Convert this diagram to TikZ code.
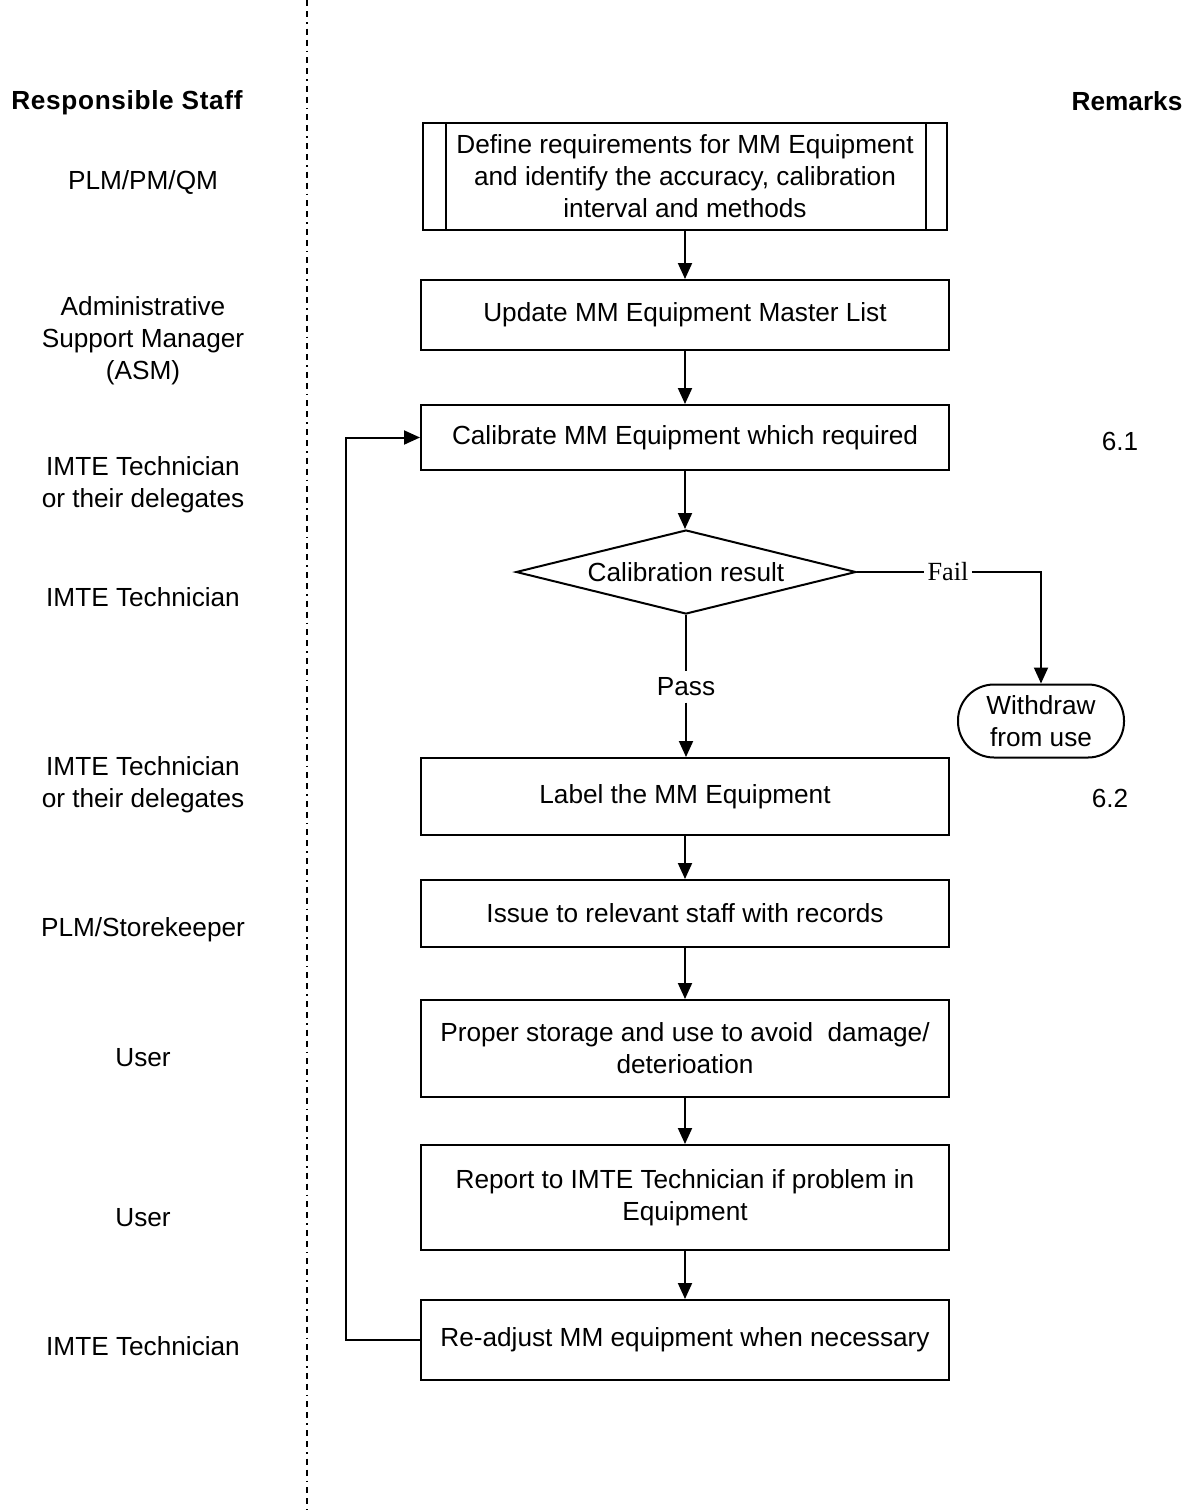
\documentclass[tikz,border=0pt]{standalone}
\usepackage{fontspec}
\setmainfont{Liberation Sans}
\newfontfamily\failfont{Liberation Serif}
\usetikzlibrary{shapes.geometric,arrows.meta}
\begin{document}
\begin{tikzpicture}[x=0.5pt,y=-0.5pt,
  every node/.style={font=\fontsize{13.1}{16}\selectfont},
  procbox/.style={draw,line width=1pt,minimum width=264pt,align=center,inner sep=2pt},
  arr/.style={line width=1pt,-{Triangle[length=8pt,width=7pt]}},
  conn/.style={line width=1pt},
  lbl/.style={align=center},
  hdr/.style={font=\fontsize{13.1}{16}\selectfont\bfseries,anchor=base}]
\useasboundingbox (0,0) rectangle (1195,1510);
% dashed separator
\coordinate (dtop) at (307,0);
\coordinate (dbot) at (307,1510);
\draw[line width=0.8pt,dash pattern=on 3pt off 2.5pt on 3pt off 2.5pt on 0.8pt off 2.5pt] (dtop) -- (dbot);
% headers
\node[hdr,font=\fontsize{13.1}{16}\selectfont\bfseries\addfontfeature{LetterSpace=2.5}] (hs) at (127,109) {Responsible Staff};
\node[hdr] (hr) at (1127,110) {Remarks};
% left column
\node[lbl] (s1) at (143,182) {PLM/PM/QM};
\node[lbl] (s2) at (143,341) {Administrative\\Support Manager\\(ASM)};
\node[lbl] (s3) at (143,485) {IMTE Technician\\or their delegates};
\node[lbl] (s4) at (143,597) {IMTE Technician};
\node[lbl] (s5) at (143,785) {IMTE Technician\\or their delegates};
\node[lbl] (s6) at (143,930) {PLM/Storekeeper};
\node[lbl] (s7) at (143,1058) {User};
\node[lbl] (s8) at (143,1218) {User};
\node[lbl] (s9) at (143,1346) {IMTE Technician};
% remarks
\node (r1) at (1120,441) {6.1};
\node (r2) at (1110,798) {6.2};
% boxes
\node[procbox,minimum width=262pt,minimum height=53.5pt] (b1) at (685,176.5) {Define requirements for MM Equipment\\and identify the accuracy, calibration\\interval and methods};
\draw[line width=1pt] ([xshift=12pt]b1.north west) -- ([xshift=12pt]b1.south west);
\draw[line width=1pt] ([xshift=-11pt]b1.north east) -- ([xshift=-11pt]b1.south east);
\node[procbox,minimum height=35pt] (b2) at (685,315) {Update MM Equipment Master List};
\node[procbox,minimum height=32.5pt] (b3) at (685,437.5) {Calibrate MM Equipment which required};
\node[draw,line width=1pt,diamond,aspect=4,inner sep=0pt,minimum width=170pt,minimum height=42pt] (d) at (686,572) {Calibration result};
\node[inner sep=3pt] (pass) at (686,687) {Pass};
\node[inner sep=1.5pt,font=\fontsize{13.1}{16}\failfont] (fail) at (948,572) {Fail};
\node[draw,line width=1pt,rounded corners=18pt,minimum width=83pt,minimum height=36.5pt,align=center,inner sep=1pt] (wd) at (1041,721) {Withdraw\\from use};
\node[procbox,minimum height=38.5pt] (b4) at (685,796.5) {Label the MM Equipment};
\node[procbox,minimum height=33.5pt] (b5) at (685,913.5) {Issue to relevant staff with records};
\node[procbox,minimum height=48.5pt] (b6) at (685,1048.5) {Proper storage and use to avoid\ \ damage/\\deterioation};
\node[procbox,minimum height=52.5pt] (b7) at (685,1197.5) {Report to IMTE Technician if problem in\\Equipment};
\node[procbox,minimum height=40pt] (b8) at (685,1340) {Re-adjust MM equipment when necessary};
% connectors
\draw[arr] (b1) -- (b2);
\draw[arr] (b2) -- (b3);
\draw[arr] (b3.south) -- (b3.south |- d.north);
\draw[conn] (d.south) -- (pass.north);
\draw[arr] (pass.south) -- (pass.south |- b4.north);
\draw[conn] (d.east) -- (fail.west);
\draw[arr] (fail.east) -| (wd.north);
\draw[arr] (b4) -- (b5);
\draw[arr] (b5) -- (b6);
\draw[arr] (b6) -- (b7);
\draw[arr] (b7) -- (b8);
\draw[arr] (b8.west) -- ++(-74,0) |- (b3.west);
\end{tikzpicture}
\end{document}
